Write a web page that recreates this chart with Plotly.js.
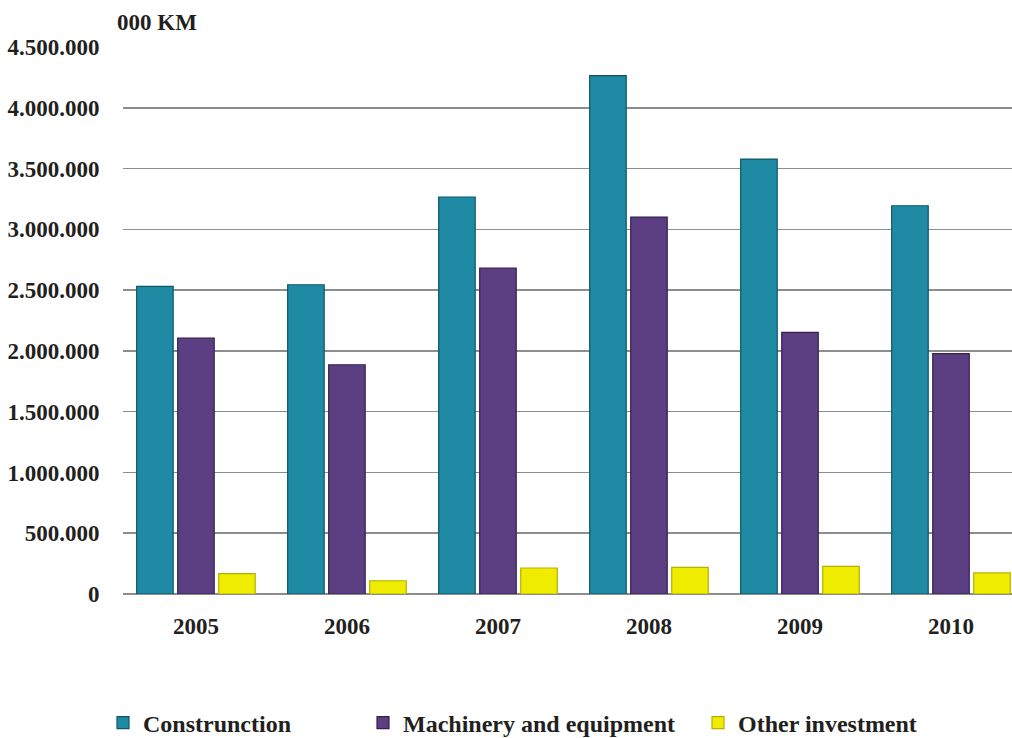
<!DOCTYPE html>
<html>
<head>
<meta charset="utf-8">
<script src="https://cdn.plot.ly/plotly-3.0.1.min.js"></script>
<style>html,body{margin:0;padding:0;background:#fff;}#chart{width:1012px;height:738px;}</style>
</head>
<body>
<div id="chart"></div>
<script>
const years = ['2005', '2006', '2007', '2008', '2009', '2010'];
const construction = [2530000, 2544000, 3266000, 4265000, 3578000, 3194000];
const machinery = [2106000, 1886000, 2682000, 3101000, 2152000, 1977000];
const other = [167000, 109000, 214000, 219000, 227000, 173000];
const seriesNames = ['Construnction', 'Machinery and equipment', 'Other investment'];
const yTicks = [0, 500000, 1000000, 1500000, 2000000, 2500000, 3000000, 3500000, 4000000, 4500000];

const FONT = {family: 'Liberation Serif, Times New Roman, serif', size: 23, color: '#231f20', weight: 'bold'};
const LFONT = {family: 'Liberation Serif, Times New Roman, serif', size: 24, color: '#231f20', weight: 'bold'};

const traces = [
  {type: 'bar', name: seriesNames[0], x: years, y: construction, legend: 'legend',
   marker: {color: '#1f8aa4', line: {color: '#0c5766', width: 1.2}}},
  {type: 'bar', name: seriesNames[1], x: years, y: machinery, legend: 'legend2',
   marker: {color: '#5c3f82', line: {color: '#35214f', width: 1.2}}},
  {type: 'bar', name: seriesNames[2], x: years, y: other, legend: 'legend3',
   marker: {color: '#f0ec00', line: {color: '#b5b000', width: 1.2}}}
];

function leg(px) {
  return {orientation: 'h', xref: 'container', yref: 'container', x: px / 1012, y: 1 - 723 / 738,
          xanchor: 'left', yanchor: 'middle', bgcolor: 'rgba(0,0,0,0)', borderwidth: 0,
          font: LFONT, itemclick: false};
}

const layout = {
  width: 1012, height: 738,
  margin: {l: 123, r: 0, t: 47, b: 144, pad: 0},
  paper_bgcolor: '#ffffff', plot_bgcolor: '#ffffff',
  font: FONT,
  separators: ',.',
  barmode: 'group', bargap: 0.185, bargroupgap: 0.11,
  title: {text: '000 KM', x: 117 / 1012, xref: 'container', xanchor: 'left',
          y: 1 - 21.5 / 738, yref: 'container', yanchor: 'middle', font: FONT},
  xaxis: {type: 'category', range: [-0.483, 5.404], showgrid: false, showline: false, zeroline: false,
          ticks: 'outside', ticklen: 11, tickcolor: 'rgba(0,0,0,0)', tickfont: FONT, fixedrange: true},
  yaxis: {range: [0, 4500000], tickvals: yTicks, tickformat: ',d', showgrid: true,
          gridcolor: '#8d8d8d', gridwidth: 1.6, zeroline: true, zerolinecolor: '#8d8d8d', zerolinewidth: 1.6,
          showline: false, ticks: 'outside', ticklen: 18, tickcolor: 'rgba(0,0,0,0)', tickfont: FONT, fixedrange: true},
  legend: leg(103),
  legend2: leg(363),
  legend3: leg(698),
  showlegend: true
};

Plotly.newPlot('chart', traces, layout, {displayModeBar: false, staticPlot: true});
</script>
</body>
</html>
